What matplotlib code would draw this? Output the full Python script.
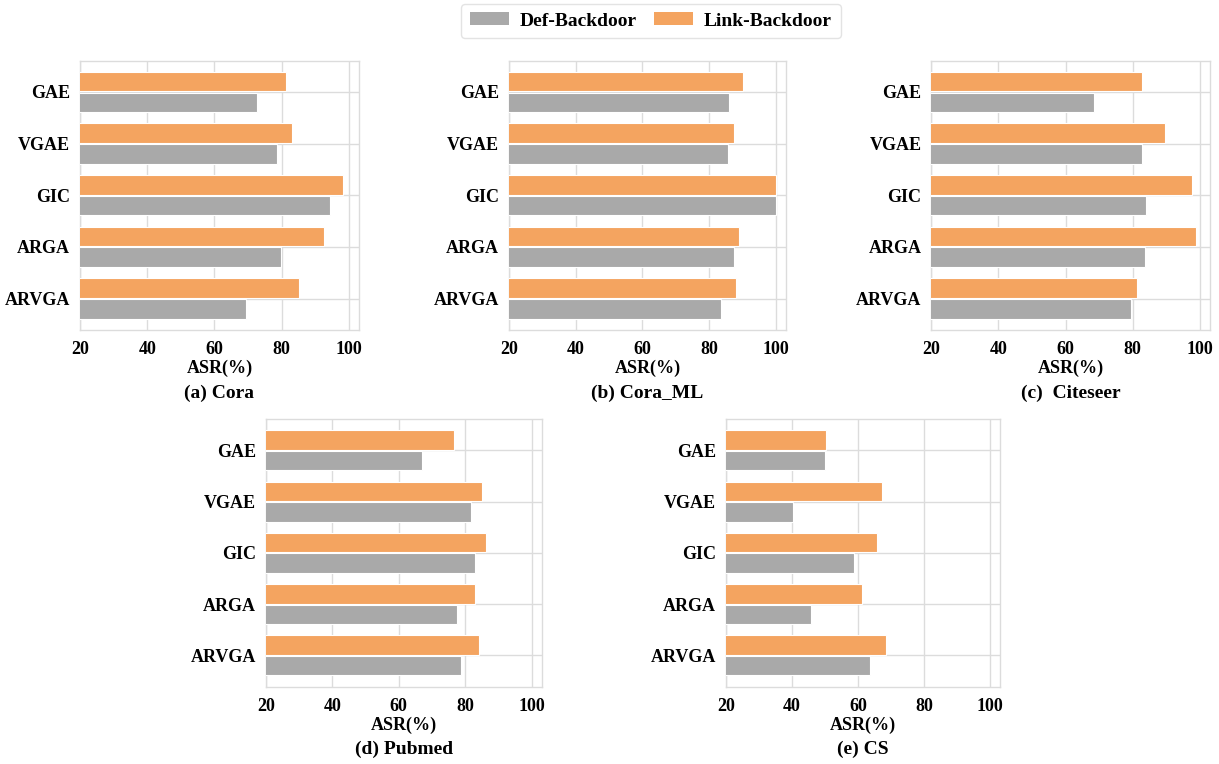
import matplotlib
matplotlib.use("Agg")
import matplotlib.pyplot as plt
import numpy as np
from matplotlib.patches import Patch

plt.rcParams['font.family'] = ['Liberation Serif', 'DejaVu Serif']
plt.rcParams['font.weight'] = 'bold'

models = ["GAE", "VGAE", "GIC", "ARGA", "ARVGA"]
series_names = ["Def-Backdoor", "Link-Backdoor"]

captions = ["(a) Cora", "(b) Cora_ML", "(c)  Citeseer", "(d) Pubmed", "(e) CS"]

# ASR (%) per dataset, in model order
def_cora = [72.8, 78.6, 94.3, 79.8, 69.3]
link_cora = [81.2, 83.2, 98.2, 92.5, 85.2]

def_cora_ml = [85.9, 85.7, 100.0, 87.4, 83.6]
link_cora_ml = [90.2, 87.4, 100.0, 89.0, 88.1]

def_citeseer = [68.6, 82.6, 83.8, 83.6, 79.5]
link_citeseer = [82.8, 89.6, 97.5, 98.7, 81.4]

def_pubmed = [67.1, 81.8, 83.0, 77.5, 78.8]
link_pubmed = [76.5, 85.0, 86.1, 83.0, 84.1]

def_cs = [49.9, 40.2, 58.7, 45.6, 63.6]
link_cs = [50.4, 67.1, 65.6, 61.3, 68.5]

x_ticks = [20, 40, 60, 80, 100]

def_color = "#A9A9A9"
link_color = "#F4A460"
grid_color = "#DCDCDC"

panels = [
    (def_cora, link_cora),
    (def_cora_ml, link_cora_ml),
    (def_citeseer, link_citeseer),
    (def_pubmed, link_pubmed),
    (def_cs, link_cs),
]

W, H = 1219, 764
# axes boxes in pixels: left, top, right, bottom
boxes = [
    (80, 60.5, 359, 330),
    (508.7, 60.5, 786.3, 330),
    (931.3, 60.5, 1210, 330),
    (265.7, 419, 541.7, 686.7),
    (726, 419, 1000.3, 686.7),
]

fig = plt.figure(figsize=(W / 100, H / 100), dpi=100)

for (d_vals, l_vals), box, cap in zip(panels, boxes, captions):
    l, t, r, b = box
    ax = fig.add_axes([l / W, 1 - b / H, (r - l) / W, (b - t) / H])
    y = np.arange(len(models))
    bh = 0.38
    ax.barh(y - bh / 2 - 0.01, l_vals, height=bh, left=0, color=link_color,
            edgecolor="white", linewidth=0.8, zorder=3)
    ax.barh(y + bh / 2 + 0.01, d_vals, height=bh, left=0, color=def_color,
            edgecolor="white", linewidth=0.8, zorder=3)
    ax.set_xlim(20, 103)
    ax.set_ylim(4.61, -0.61)
    ax.set_yticks(y)
    ax.set_yticklabels(models, fontsize=13, fontweight="bold")
    ax.set_xticks(x_ticks)
    ax.set_xticklabels([str(v) for v in x_ticks], fontsize=13, fontweight="bold")
    ax.tick_params(axis="both", length=0, pad=7)
    ax.tick_params(axis="x", pad=8)
    ax.grid(True, color=grid_color, linewidth=1.0, zorder=0)
    ax.set_axisbelow(True)
    for s in ax.spines.values():
        s.set_color(grid_color)
        s.set_linewidth(1.0)
    ax.set_xlabel("ASR(%)", fontsize=13, fontweight="bold", labelpad=1)
    cx = (l + r) / 2 / W
    fig.text(cx, 1 - (b + 63) / H, cap, ha="center", va="center",
             fontsize=14, fontweight="bold")

handles = [Patch(facecolor=def_color, edgecolor="none"),
           Patch(facecolor=link_color, edgecolor="none")]
fig.legend(handles, series_names, loc="center", bbox_to_anchor=(651 / W, 1 - 21 / H),
           ncol=2, frameon=True, prop={"weight": "bold", "size": 14},
           handlelength=2.0, handleheight=0.6, handletextpad=0.55,
           columnspacing=0.9, borderpad=0.45, borderaxespad=0.0,
           edgecolor="#DCDCDC", fancybox=True)

fig.savefig("out.png", dpi=100)
